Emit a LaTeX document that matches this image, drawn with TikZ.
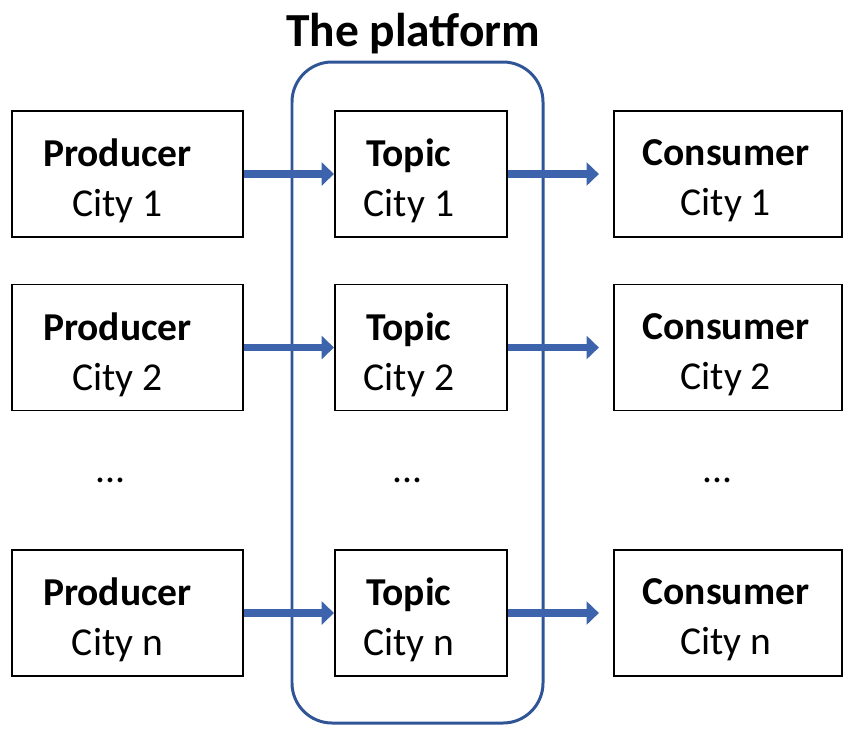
\documentclass[tikz,border=0pt]{standalone}
\usepackage{fontspec}
\setmainfont{Carlito}
\usetikzlibrary{positioning,calc,arrows.meta}
\definecolor{platformblue}{RGB}{47,85,151}
\definecolor{arrowblue}{RGB}{61,99,172}

\begin{document}
\begin{tikzpicture}[
    box/.style={draw, line width=1.1pt, minimum height=2.52cm, inner sep=0pt},
    prodbox/.style={box, minimum width=4.62cm},
    topicbox/.style={box, minimum width=3.44cm},
    consbox/.style={box, minimum width=4.56cm},
    celltext/.style={align=center, inner sep=0pt, yshift=-0.14cm,
        font=\fontsize{22.5}{28.3}\selectfont},
    flow/.style={arrowblue, line width=4.5pt,
        -{Triangle[length=7pt, width=13pt]}},
    dots/.style={font=\fontsize{22.5}{28.3}\selectfont, inner sep=0pt}
]
    \useasboundingbox (0,0) rectangle (17.12,-15);

    % the platform
    \node[draw=platformblue, line width=1.7pt, rounded corners=0.8cm,
        minimum width=5.02cm, minimum height=13.22cm] (platform) at (8.35,-7.85) {};
    \node[font=\fontsize{27}{32}\selectfont\bfseries] (title) at (8.26,-0.68) {The platform};

    % boxes, one row per city
    \foreach \r/\y in {1/-3.48, 2/-6.95, n/-12.26} {
        \node[prodbox] (prod\r) at (2.55,\y) {};
        \node[topicbox, right=1.8cm of prod\r] (topic\r) {};
        \node[consbox, right=2.1cm of topic\r] (cons\r) {};

        \node[celltext, xshift=-0.2cm] (prodtext\r) at (prod\r) {\textbf{Producer}\\City \r};
        \node[celltext, xshift=-0.24cm] (topictext\r) at (topic\r) {\textbf{Topic}\\City \r};
        \node[celltext, xshift=-0.04cm] (constext\r) at (cons\r) {\textbf{Consumer}\\City \r};

        \draw[flow] (prod\r.east) -- (topic\r.west);
        \draw[flow, shorten >=0.28cm] (topic\r.east) -- (cons\r.west);
    }

    % dots
    \node[dots, xshift=-0.34cm] (dotsP) at ($(prod2)!0.5!(prodn)$) {...};
    \node[dots, xshift=-0.26cm] (dotsT) at ($(topic2)!0.5!(topicn)$) {...};
    \node[dots, xshift=-0.2cm] (dotsC) at ($(cons2)!0.5!(consn)$) {...};
\end{tikzpicture}
\end{document}
